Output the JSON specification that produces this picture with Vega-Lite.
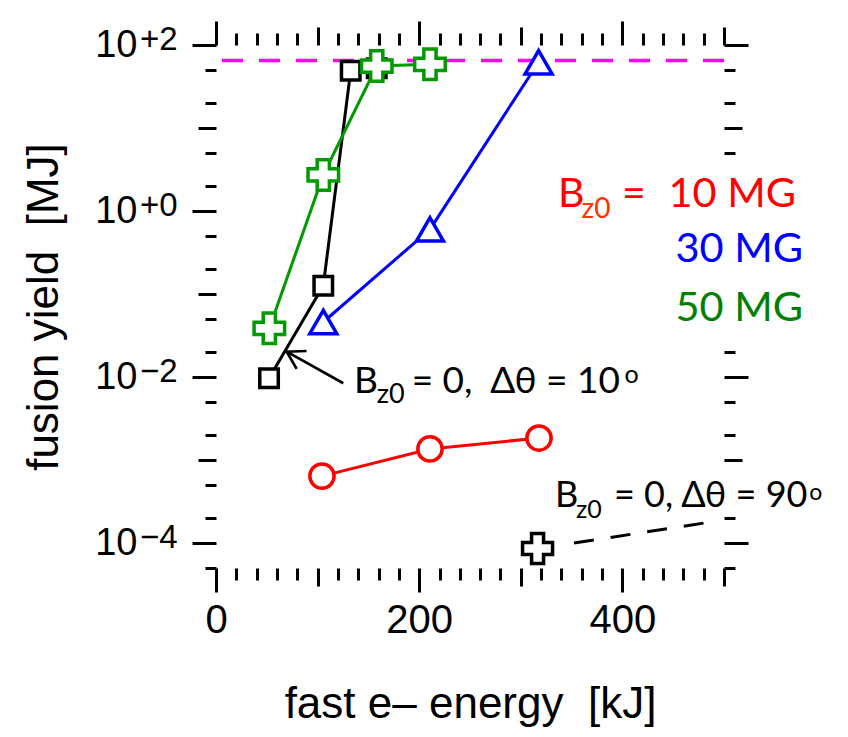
{
  "$schema": "https://vega.github.io/schema/vega-lite/v6.json",
  "width": 508,
  "height": 523,
  "autosize": {"type": "none"},
  "padding": {"left": 216, "top": 45, "right": 124, "bottom": 169},
  "background": "white",
  "config": {"view": {"stroke": null}, "axis": {"grid": false, "domain": false}, "font": "Liberation Sans"},
  "datasets": {
    "pts": [
      {"series": "Bz0 = 10 MG", "E": 104.3, "Y": 0.00064},
      {"series": "Bz0 = 10 MG", "E": 210.6, "Y": 0.00136},
      {"series": "Bz0 = 10 MG", "E": 317.9, "Y": 0.00184},
      {"series": "Bz0 = 30 MG", "E": 105.6, "Y": 0.046},
      {"series": "Bz0 = 30 MG", "E": 210.6, "Y": 0.6},
      {"series": "Bz0 = 30 MG", "E": 317.5, "Y": 62},
      {"series": "Bz0 = 0, Δθ = 10°", "E": 52.2, "Y": 0.00964},
      {"series": "Bz0 = 0, Δθ = 10°", "E": 105.6, "Y": 0.126},
      {"series": "Bz0 = 0, Δθ = 10°", "E": 132.6, "Y": 49},
      {"series": "Bz0 = 0, Δθ = 10°", "E": 158.2, "Y": 52.4},
      {"series": "Bz0 = 50 MG", "E": 52.5, "Y": 0.0386},
      {"series": "Bz0 = 50 MG", "E": 105.6, "Y": 2.72},
      {"series": "Bz0 = 50 MG", "E": 158.2, "Y": 55.8},
      {"series": "Bz0 = 50 MG", "E": 210.6, "Y": 58.5},
      {"series": "Bz0 = 0, Δθ = 90°", "E": 316.5, "Y": 0.000086}
    ],
    "ref": [{"Y": 65}],
    "arrow": [
      {"E": 125.3, "Y": 0.0084, "part": "tail"},
      {"E": 69.6, "Y": 0.0202, "part": "tip"}
    ],
    "guide90": [
      {"E": 352.4, "Y": 0.0001},
      {"E": 484.3, "Y": 0.000177}
    ],
    "txtL": [
      {"t": "B", "E": 336.6, "Y": 1.127, "g": "red"},
      {"t": "B", "E": 135.8, "Y": 0.00647, "g": "k10"},
      {"t": "= 0,\u00a0 Δθ = 10", "E": 192.6, "Y": 0.00647, "g": "k10"},
      {"t": "B", "E": 333.7, "Y": 0.000269, "g": "k90"},
      {"t": "= 0, Δθ = 90", "E": 391.7, "Y": 0.000269, "g": "k90"}
    ],
    "txtSub": [
      {"t": "z0", "E": 359.8, "Y": 0.817, "g": "red"},
      {"t": "z0", "E": 158.2, "Y": 0.0049, "g": "k10"},
      {"t": "z0", "E": 354.3, "Y": 0.0002, "g": "k90"}
    ],
    "txtSup": [
      {"t": "o", "E": 402, "Y": 0.00847, "g": "k10"},
      {"t": "o", "E": 584, "Y": 0.00033, "g": "k90"}
    ],
    "txtR": [
      {"t": "10 MG", "E": 570.9, "Y": 1.127, "g": "red"},
      {"t": "30 MG", "E": 577.8, "Y": 0.245, "g": "blue"},
      {"t": "50 MG", "E": 577.8, "Y": 0.0477, "g": "green"}
    ],
    "txtC": [
      {"t": "=", "E": 411.4, "Y": 1.127}
    ]
  },
  "resolve": {
    "axis": {"x": "independent", "y": "independent"},
    "scale": {"color": "independent", "size": "independent", "stroke": "independent", "shape": "independent"}
  },
  "layer": [
    {
      "data": {"name": "pts"},
      "mark": {"type": "line", "strokeWidth": 3},
      "encoding": {
        "x": {"field": "E", "type": "quantitative", "scale": {"domain": [0, 500], "nice": false, "zero": false},
          "axis": {"orient": "bottom", "values": [0,20,40,60,80,100,120,140,160,180,200,220,240,260,280,300,320,340,360,380,400,420,440,460,480,500],
            "labels": false, "domain": false, "tickColor": "black", "tickWidth": 3, "title": null,
            "tickSize": {"condition": [{"test": "datum.value % 200 === 0", "value": 24}, {"test": "datum.value % 100 === 0", "value": 18}], "value": 12}}},
        "y": {"field": "Y", "type": "quantitative", "scale": {"type": "log", "domain": [0.00005, 100], "nice": false},
          "axis": {"orient": "left", "values": [0.00005,0.0001,0.0002,0.0005,0.001,0.002,0.005,0.01,0.02,0.05,0.1,0.2,0.5,1,2,5,10,20,50,100],
            "labels": false, "domain": false, "tickColor": "black", "tickWidth": 3, "title": null,
            "tickSize": {"condition": [
              {"test": "abs(log(datum.value)/LN10 - round(log(datum.value)/LN10)) < 0.01 && round(log(datum.value)/LN10) % 2 == 0", "value": 24},
              {"test": "abs(log(datum.value)/LN10 - round(log(datum.value)/LN10)) < 0.01", "value": 18}], "value": 11}}},
        "color": {"field": "series", "type": "nominal", "legend": null,
          "scale": {"domain": ["Bz0 = 10 MG", "Bz0 = 30 MG", "Bz0 = 50 MG", "Bz0 = 0, Δθ = 10°", "Bz0 = 0, Δθ = 90°"],
            "range": ["#FF0000", "#0000FF", "#009900", "#000000", "#000000"]}}
      }
    },
    {
      "data": {"name": "ref"},
      "mark": {"type": "rule", "color": "#FF00FF", "strokeWidth": 3.5, "strokeDash": [21, 16]},
      "encoding": {
        "y": {"field": "Y", "type": "quantitative", "scale": {"type": "log", "domain": [0.00005, 100], "nice": false}, "axis": null}
      }
    },
    {
      "data": {"name": "arrow"},
      "mark": {"type": "line", "color": "black", "strokeWidth": 2.7},
      "encoding": {
        "x": {"field": "E", "type": "quantitative", "scale": {"domain": [0, 500], "nice": false, "zero": false}, "axis": null},
        "y": {"field": "Y", "type": "quantitative", "scale": {"type": "log", "domain": [0.00005, 100], "nice": false}, "axis": null}
      }
    },
    {
      "data": {"name": "arrow"},
      "transform": [{"filter": "datum.part === 'tip'"}],
      "mark": {"type": "point", "shape": "M-1,-0.6L0,0L-1,0.6", "filled": false, "color": "black", "strokeWidth": 2.7, "size": 1160, "angle": 209, "opacity": 1},
      "encoding": {
        "x": {"field": "E", "type": "quantitative", "scale": {"domain": [0, 500], "nice": false, "zero": false}, "axis": null},
        "y": {"field": "Y", "type": "quantitative", "scale": {"type": "log", "domain": [0.00005, 100], "nice": false}, "axis": null}
      }
    },
    {
      "data": {"name": "guide90"},
      "mark": {"type": "line", "color": "black", "strokeWidth": 3, "strokeDash": [20, 17]},
      "encoding": {
        "x": {"field": "E", "type": "quantitative", "scale": {"domain": [0, 500], "nice": false, "zero": false}, "axis": null},
        "y": {"field": "Y", "type": "quantitative", "scale": {"type": "log", "domain": [0.00005, 100], "nice": false}, "axis": null}
      }
    },
    {
      "data": {"name": "pts"},
      "mark": {"type": "point", "filled": true, "fill": "white", "strokeWidth": 3.5, "opacity": 1},
      "encoding": {
        "x": {"field": "E", "type": "quantitative", "scale": {"domain": [0, 500], "nice": false, "zero": false},
          "axis": {"orient": "top", "values": [0,20,40,60,80,100,120,140,160,180,200,220,240,260,280,300,320,340,360,380,400,420,440,460,480,500],
            "labels": false, "domain": false, "tickColor": "black", "tickWidth": 3, "title": null,
            "tickSize": {"condition": [{"test": "datum.value % 200 === 0", "value": 24}, {"test": "datum.value % 100 === 0", "value": 18}], "value": 12}}},
        "y": {"field": "Y", "type": "quantitative", "scale": {"type": "log", "domain": [0.00005, 100], "nice": false},
          "axis": {"orient": "right", "values": [0.00005,0.0001,0.0002,0.001,0.002,0.005,0.01,0.02,5,10,20,50,100],
            "labels": false, "domain": false, "tickColor": "black", "tickWidth": 3, "title": null,
            "tickSize": {"condition": [
              {"test": "abs(log(datum.value)/LN10 - round(log(datum.value)/LN10)) < 0.01 && round(log(datum.value)/LN10) % 2 == 0", "value": 24},
              {"test": "abs(log(datum.value)/LN10 - round(log(datum.value)/LN10)) < 0.01", "value": 18}], "value": 11}}},
        "stroke": {"field": "series", "type": "nominal", "legend": null,
          "scale": {"domain": ["Bz0 = 10 MG", "Bz0 = 30 MG", "Bz0 = 50 MG", "Bz0 = 0, Δθ = 10°", "Bz0 = 0, Δθ = 90°"],
            "range": ["#FF0000", "#0000FF", "#009900", "#000000", "#000000"]}},
        "shape": {"field": "series", "type": "nominal", "legend": null,
          "scale": {"domain": ["Bz0 = 10 MG", "Bz0 = 30 MG", "Bz0 = 50 MG", "Bz0 = 0, Δθ = 10°", "Bz0 = 0, Δθ = 90°"],
            "range": ["circle", "triangle-up", "cross", "square", "cross"]}},
        "size": {"field": "series", "type": "nominal", "legend": null,
          "scale": {"type": "ordinal", "domain": ["Bz0 = 10 MG", "Bz0 = 30 MG", "Bz0 = 50 MG", "Bz0 = 0, Δθ = 10°", "Bz0 = 0, Δθ = 90°"],
            "range": [590, 730, 930, 342, 900]}}
      }
    },
    {
      "data": {"name": "txtL"},
      "mark": {"type": "text", "align": "left", "baseline": "alphabetic", "font": "Lato"},
      "encoding": {
        "x": {"field": "E", "type": "quantitative", "scale": {"domain": [0, 500], "nice": false, "zero": false},
          "axis": {"orient": "bottom", "values": [0, 200, 400], "ticks": false, "domain": false,
            "labelFont": "Liberation Sans", "labelFontSize": 40, "labelPadding": 32, "labelFlush": false, "labelOverlap": false, "labelColor": "black",
            "title": "fast e– energy\u00a0 [kJ]", "titleFont": "Liberation Sans", "titleFontSize": 44, "titleFontWeight": "normal", "titleColor": "black", "titlePadding": 42}},
        "y": {"field": "Y", "type": "quantitative", "scale": {"type": "log", "domain": [0.00005, 100], "nice": false},
          "axis": {"orient": "left", "values": [0.0001, 0.01, 1, 100], "ticks": false, "domain": false, "labelExpr": "'10'",
            "labelFont": "Liberation Sans", "labelFontSize": 38, "labelPadding": 79, "labelOverlap": false, "labelFlush": false, "labelColor": "black",
            "title": "fusion yield\u00a0 [MJ]", "titleFont": "Liberation Sans", "titleFontSize": 44, "titleFontWeight": "normal", "titleColor": "black", "titlePadding": 28}},
        "text": {"field": "t"},
        "color": {"field": "g", "type": "nominal", "legend": null, "scale": {"domain": ["red", "k10", "k90"], "range": ["#FF0000", "#000000", "#000000"]}},
        "size": {"field": "g", "type": "nominal", "legend": null, "scale": {"type": "ordinal", "domain": ["red", "k10", "k90"], "range": [41, 37, 36]}}
      }
    },
    {
      "data": {"name": "txtR"},
      "mark": {"type": "text", "align": "right", "baseline": "alphabetic", "font": "Lato", "fontSize": 41.5},
      "encoding": {
        "x": {"field": "E", "type": "quantitative", "scale": {"domain": [0, 500], "nice": false, "zero": false}, "axis": null},
        "y": {"field": "Y", "type": "quantitative", "scale": {"type": "log", "domain": [0.00005, 100], "nice": false},
          "axis": {"orient": "right", "ticks": false, "labels": false, "domain": false, "title": null}},
        "text": {"field": "t"},
        "color": {"field": "g", "type": "nominal", "legend": null, "scale": {"domain": ["red", "blue", "green"], "range": ["#FF0000", "#0000FF", "#008000"]}}
      }
    },
    {
      "data": {"name": "txtSub"},
      "mark": {"type": "text", "align": "left", "baseline": "alphabetic", "font": "Lato"},
      "encoding": {
        "x": {"field": "E", "type": "quantitative", "scale": {"domain": [0, 500], "nice": false, "zero": false}, "axis": null},
        "y": {"field": "Y", "type": "quantitative", "scale": {"type": "log", "domain": [0.00005, 100], "nice": false},
          "axis": {"orient": "left", "values": [0.0001, 0.01, 1, 100], "ticks": false, "domain": false,
            "labelExpr": "datum.value >= 50 ? '+2' : datum.value >= 0.5 ? '+0' : datum.value >= 0.005 ? '−2' : '−4'",
            "labelFont": "Liberation Sans", "labelFontSize": 33, "labelPadding": 39, "labelOffset": -6,
            "labelOverlap": false, "labelFlush": false, "labelColor": "black", "title": null}},
        "text": {"field": "t"},
        "color": {"field": "g", "type": "nominal", "legend": null, "scale": {"domain": ["red", "k10", "k90"], "range": ["#FF3300", "#000000", "#000000"]}},
        "size": {"field": "g", "type": "nominal", "legend": null, "scale": {"type": "ordinal", "domain": ["red", "k10", "k90"], "range": [28, 27, 25]}}
      }
    },
    {
      "data": {"name": "txtSup"},
      "mark": {"type": "text", "align": "left", "baseline": "alphabetic", "font": "Lato", "color": "black"},
      "encoding": {
        "x": {"field": "E", "type": "quantitative", "scale": {"domain": [0, 500], "nice": false, "zero": false}, "axis": null},
        "y": {"field": "Y", "type": "quantitative", "scale": {"type": "log", "domain": [0.00005, 100], "nice": false}, "axis": null},
        "text": {"field": "t"},
        "size": {"field": "g", "type": "nominal", "legend": null, "scale": {"type": "ordinal", "domain": ["k10", "k90"], "range": [25, 23]}}
      }
    },
    {
      "data": {"name": "txtC"},
      "mark": {"type": "text", "align": "center", "baseline": "alphabetic", "font": "Lato", "fontSize": 41, "color": "#FF0000"},
      "encoding": {
        "x": {"field": "E", "type": "quantitative", "scale": {"domain": [0, 500], "nice": false, "zero": false}, "axis": null},
        "y": {"field": "Y", "type": "quantitative", "scale": {"type": "log", "domain": [0.00005, 100], "nice": false}, "axis": null},
        "text": {"field": "t"}
      }
    }
  ]
}
